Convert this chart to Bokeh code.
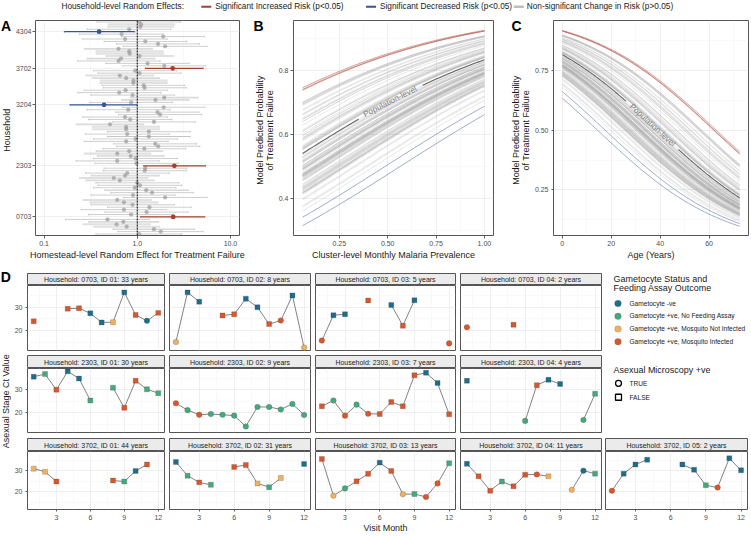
import math
import numpy as np
from bokeh.plotting import figure
from bokeh.models import (Range1d, FixedTicker, PrintfTickFormatter, Label, Span,
                          ColumnDataSource)
from bokeh.layouts import row, column
from bokeh.embed import file_html
from bokeh.resources import INLINE

# ====================== DATA ======================
# Panel A: household-level random effects (odds-ratio scale), listed bottom -> top
hh_est = [1.05, 1.79, 1.51, 0.77, 0.60, 0.71, 0.48, 2.43, 0.86, 1.26,
          0.72, 1.35, 0.89, 0.72, 0.61, 1.99, 0.90, 1.44, 1.25, 0.94,
          1.07, 1.00, 0.65, 0.56, 0.74, 0.78, 1.20, 1.22, 2.50, 0.98,
          0.61, 0.96, 0.85, 0.61, 0.82, 1.19, 1.68, 1.56, 0.76, 0.96,
          1.33, 0.78, 1.33, 0.76, 0.76, 0.51, 1.51, 0.84, 0.74, 1.76,
          1.65, 0.80, 1.92, 0.44, 0.86, 1.57, 1.95, 0.89, 0.64, 0.75,
          1.20, 1.17, 0.91, 0.91, 0.76, 0.65, 1.06, 0.95, 2.40, 1.95,
          1.29, 0.63, 0.67, 1.06, 0.83, 0.82, 0.63, 1.99, 1.67, 1.22,
          0.74, 1.90, 0.68, 0.39, 0.82, 1.08, 1.10, 1.05]
hh_lo = [0.36, 0.62, 0.55, 0.34, 0.26, 0.30, 0.17, 1.08, 0.30, 0.45,
         0.25, 0.48, 0.32, 0.31, 0.26, 0.71, 0.32, 0.52, 0.45, 0.34,
         0.38, 0.36, 0.28, 0.24, 0.32, 0.28, 0.43, 0.44, 1.17, 0.35,
         0.22, 0.34, 0.37, 0.27, 0.36, 0.43, 0.60, 0.56, 0.27, 0.34,
         0.48, 0.28, 0.48, 0.33, 0.33, 0.22, 0.54, 0.30, 0.26, 0.63,
         0.59, 0.29, 0.69, 0.19, 0.31, 0.68, 0.84, 0.32, 0.23, 0.27,
         0.43, 0.42, 0.40, 0.40, 0.33, 0.28, 0.38, 0.34, 1.22, 0.70,
         0.46, 0.23, 0.29, 0.46, 0.36, 0.36, 0.27, 0.71, 0.60, 0.44,
         0.26, 0.68, 0.24, 0.165, 0.29, 0.48, 0.49, 0.37]
hh_hi = [3.0, 5.1, 4.1, 1.75, 1.38, 1.70, 1.35, 5.3, 2.45, 3.5,
         2.05, 3.8, 2.5, 1.68, 1.42, 5.6, 2.55, 4.0, 3.5, 2.6,
         3.0, 2.8, 1.52, 1.30, 1.72, 2.2, 3.35, 3.4, 5.4, 2.75,
         1.72, 2.7, 1.95, 1.40, 1.88, 3.3, 4.7, 4.3, 2.15, 2.7,
         3.7, 2.2, 3.7, 1.75, 1.75, 1.18, 4.2, 2.35, 2.1, 4.9,
         4.6, 2.25, 5.3, 0.99, 2.4, 3.6, 4.5, 2.5, 1.8, 2.1,
         3.35, 3.25, 2.1, 2.1, 1.75, 1.50, 2.95, 2.65, 5.1, 5.4,
         3.6, 1.76, 1.55, 2.45, 1.92, 1.90, 1.46, 5.6, 4.65, 3.4,
         2.1, 5.3, 1.9, 0.94, 2.3, 2.45, 2.5, 2.9]
hh_n = [2, 2, 3, 7, 7, 6, 2, 4, 2, 2,
        2, 2, 2, 7, 7, 2, 2, 2, 3, 2,
        2, 2, 6, 7, 6, 2, 2, 2, 4, 2,
        2, 2, 7, 7, 6, 2, 2, 2, 2, 2,
        3, 2, 2, 7, 7, 6, 2, 2, 2, 2,
        2, 2, 2, 4, 2, 6, 6, 2, 2, 2,
        2, 2, 7, 7, 6, 7, 2, 2, 4, 2,
        2, 2, 6, 7, 7, 7, 6, 2, 2, 2,
        2, 2, 2, 4, 2, 7, 7, 2]
hh_tick_rows = [7, 28, 53, 68, 83]
hh_tick_labels = ["0703", "2303", "3204", "3702", "4304"]

# Panels B & C: population-level fixed effects (logit scale)
b_intercept, b_slope = 0.071, 1.543        # vs cluster-level monthly prevalence
b_prev_min, b_prev_max = 0.06, 1.00
c_intercept, c_slope = 1.49, -0.03825      # vs age in years
c_age_min, c_age_max = 0.0, 72.5

# Panel D: asexual-stage Ct value by visit month (None = no sample)
months = [1, 2, 3, 4, 5, 6, 7, 8, 9, 10, 11, 12]
d_titles = ["Household: 0703, ID 01: 33 years", "Household: 0703, ID 02: 8 years",
            "Household: 0703, ID 03: 5 years", "Household: 0703, ID 04: 2 years",
            "Household: 2303, ID 01: 30 years", "Household: 2303, ID 02: 9 years",
            "Household: 2303, ID 03: 7 years", "Household: 2303, ID 04: 4 years",
            "Household: 3702, ID 01: 44 years", "Household: 3702, ID 02: 31 years",
            "Household: 3702, ID 03: 13 years", "Household: 3702, ID 04: 11 years",
            "Household: 3702, ID 05: 2 years"]
d_ct = [
    [24.0, None, None, 29.4, 29.6, 27.4, 23.5, 23.6, 36.4, 26.7, 24.2, 27.6],
    [15.1, 36.4, 32.4, None, 26.5, 27.0, 33.7, 30.0, 22.8, 24.3, 35.1, 12.7],
    [15.7, 26.6, 27.0, None, 32.9, None, 31.0, 22.1, 33.0, None, None, 14.5],
    [21.4, None, None, None, 22.5, None, None, None, None, None, None, None],
    [35.8, 36.9, 30.1, 38.1, 35.0, 25.4, None, 31.0, 22.2, 34.0, 30.3, 28.6],
    [24.2, 21.2, 19.2, 19.5, 19.2, 18.8, 14.1, 22.6, 22.6, 21.5, 23.9, 19.1],
    [22.9, 25.4, 18.8, 23.6, 19.6, 19.5, 24.7, 22.9, 36.4, 37.5, 33.0, 19.4],
    [34.0, None, None, None, None, 16.5, 32.1, 34.4, 32.6, None, 16.9, 28.3],
    [31.1, 29.6, 24.9, None, None, None, None, 25.4, 24.9, 30.0, 33.1, None],
    [34.3, 27.7, 24.5, 23.3, None, 31.9, 32.9, 24.0, 22.2, 26.6, None, 33.3],
    [35.8, 18.1, 21.6, 25.0, 28.6, 34.0, 30.0, 18.8, 18.9, 17.5, 24.0, 33.7],
    [33.4, 27.4, 20.5, 24.9, 22.6, 28.2, 28.3, 27.4, None, 20.9, 30.1, 28.7],
    [20.5, 28.7, 33.1, 35.4, None, None, 33.1, 30.6, 23.1, 22.0, 36.1, 30.3],
]
# gametocyte status: N = -ve, F = +ve no feeding assay, U = mosquito not infected, I = mosquito infected
d_status = ["I--IINNUNINI", "UNN-IINNIINU", "INN-I-NIN--I", "I---I-------",
            "NFINNF-FIIFF", "IFIFFFFFFFFF", "IFIFIIIIINNI", "N----FINN-FF",
            "UUI----IFNI-", "NFIF-IIUFU-N", "IUFIINIUFIIF", "NIIFIIIU-UNF",
            "INNN--NNFINN"]
# asexual microscopy +ve: c = TRUE (circle), s = FALSE (square)
d_micro = ["s--ssssssscs", "css-ssssscsc", "css-s-sss--c", "c---s-------",
           "ssssss-sssss", "cccccccccccc", "sccccsssssss", "s----csss-cs",
           "sss----ssss-", "ssss-sssss-s", "sccsssscsccs", "sssssscs-ccs",
           "csss--ssscss"]

status_codes = ["N", "F", "U", "I"]
status_labels = ["Gametocyte -ve", "Gametocyte +ve, No Feeding Assay",
                 "Gametocyte +ve, Mosquito Not Infected", "Gametocyte +ve, Mosquito Infected"]
status_colors = ["#1D6E8E", "#44AA7E", "#F0B15E", "#D9572B"]
micro_labels = ["TRUE", "FALSE"]

re_labels = ["Significant Increased Risk (p<0.05)", "Significant Decreased Risk (p<0.05)",
             "Non-significant Change in Risk (p>0.05)"]
RED, BLUE, GRAY = "#A83E2C", "#355593", "#9A9A9A"

# ====================== LAYOUT HELPERS ======================
SX = 750 / 751
SY = 535 / 536
FONT = "Liberation Sans"


def px(v):
    return f"{v * SY:.2f}px"


def fig_box(x0, x1, y0, y1, fx0, fx1, fy0, fy1, **kw):
    w = round(x1 * SX) - round(x0 * SX)
    h = round(y1 * SY) - round(y0 * SY)
    p = figure(width=w, height=h,
               min_border_left=round(fx0 * SX) - round(x0 * SX),
               min_border_right=round(x1 * SX) - round(fx1 * SX),
               min_border_top=round(fy0 * SY) - round(y0 * SY),
               min_border_bottom=round(y1 * SY) - round(fy1 * SY),
               toolbar_location=None, output_backend="svg", **kw)
    p.background_fill_color = "white"
    p.border_fill_color = "white"
    return p


def blank_fig(x0, x1, y0, y1):
    p = fig_box(x0, x1, y0, y1, x0, x1, y0, y1,
                x_range=Range1d(x0, x1), y_range=Range1d(y1, y0),
                x_axis_location=None, y_axis_location=None)
    p.grid.visible = False
    p.outline_line_color = None
    return p


def add_label(p, box, x, y, text, size, color="#1A1A1A", align="left",
              baseline="middle", angle=0.0, bold=False):
    # box = (x0, x1, y0, y1) of a blank figure, text position in page coordinates
    x0, x1, y0, y1 = box
    p.add_layout(Label(x=(x - x0) * SX, y=(y1 - y) * SY, x_units="screen", y_units="screen",
                       text=text, text_font=FONT, text_font_size=px(size), text_color=color,
                       text_align=align, text_baseline=baseline, angle=angle,
                       text_font_style="bold" if bold else "normal"))


def style_theme(p, tick_size=7, tick_out=3, standoff=1):
    p.outline_line_color = "#555555"
    p.outline_line_width = 1
    for g in p.grid:
        g.grid_line_color = "#EBEBEB"
        g.grid_line_width = 0.8
        g.minor_grid_line_color = "#F3F3F3"
        g.minor_grid_line_width = 0.5
    for ax in p.axis:
        ax.axis_line_color = None
        ax.major_tick_line_color = "#333333"
        ax.major_tick_line_width = 0.8
        ax.major_tick_in = 0
        ax.major_tick_out = tick_out
        ax.minor_tick_line_color = None
        ax.major_label_text_font = FONT
        ax.major_label_text_font_size = px(tick_size)
        ax.major_label_text_color = "#4D4D4D"
        ax.major_label_standoff = standoff
        ax.axis_label_text_font = FONT
        ax.axis_label_text_font_size = px(9)
        ax.axis_label_text_font_style = "normal"
        ax.axis_label_text_color = "#1A1A1A"
        ax.axis_label_standoff = 1


def inv_logit(z):
    return 1.0 / (1.0 + np.exp(-z))


sig = ["inc" if lo > 1 else ("dec" if hi < 1 else "ns") for lo, hi in zip(hh_lo, hh_hi)]

# ====================== HEADER LEGEND ======================
hbox = (0, 751, 0, 12)
hdr = blank_fig(*hbox)
add_label(hdr, hbox, 61, 6.3, "Household-level Random Effects:", 8.3)
sw_x = [201, 366, 514]
tx_x = [215, 380, 527]
sw_col = [RED, BLUE, "#BDBDBD"]
sw_w = [2.0, 2.0, 2.6]
for i, lab in enumerate(re_labels):
    hdr.segment(x0=[sw_x[i]], y0=[6.3], x1=[sw_x[i] + 10], y1=[6.3],
                line_color=sw_col[i], line_width=sw_w[i])
    add_label(hdr, hbox, tx_x[i], 6.3, lab, 8.3)

# ====================== PANEL A ======================
TOP, BOT = 12, 262
aBox = (0, 12, TOP, BOT)
blkA = blank_fig(*aBox)
add_label(blkA, aBox, 0.5, 25.5, "A", 14, color="black", baseline="alphabetic", bold=True)
add_label(blkA, aBox, 6.3, 129.5, "Household", 9, align="center", angle=math.pi / 2)

pA = fig_box(12, 248, TOP, BOT, 32, 239, 20, 239, x_axis_type="log",
             x_range=Range1d(0.081, 12.5), y_range=Range1d(-0.6, len(hh_est) - 0.4),
             x_axis_label="Homestead-level Random Effect for Treatment Failure")
style_theme(pA)
pA.xaxis.ticker = FixedTicker(ticks=[0.1, 1, 10], minor_ticks=[0.316, 3.16])
pA.xaxis.formatter = PrintfTickFormatter(format="%.1f")
pA.yaxis.ticker = FixedTicker(ticks=hh_tick_rows, minor_ticks=[])
pA.yaxis.major_label_overrides = {r: l for r, l in zip(hh_tick_rows, hh_tick_labels)}
pA.ygrid.minor_grid_line_color = None

rows_all = list(range(len(hh_est)))


def a_source(keep):
    idx = [i for i in rows_all if keep(sig[i])]
    col = [RED if sig[i] == "inc" else BLUE if sig[i] == "dec" else GRAY for i in idx]
    lw = [1.3 if sig[i] != "ns" else 0.1 + 0.28 * hh_n[i] for i in idx]
    la = [1.0 if sig[i] != "ns" else max(0.3, 0.9 - 0.09 * hh_n[i]) for i in idx]
    return ColumnDataSource(dict(
        y=idx, e=[hh_est[i] for i in idx], lo=[hh_lo[i] for i in idx], hi=[hh_hi[i] for i in idx],
        ylo=[i - 0.38 for i in idx], yhi=[i + 0.38 for i in idx], col=col, lw=lw, la=la))


for keep, psize, palpha in [(lambda s: s == "ns", 4.2, 0.7), (lambda s: s != "ns", 4.8, 1.0)]:
    src = a_source(keep)
    pA.segment(x0="lo", y0="y", x1="hi", y1="y", line_color="col", line_width="lw",
               line_alpha="la", source=src)
    pA.segment(x0="lo", y0="ylo", x1="lo", y1="yhi", line_color="col", line_width=0.6,
               line_alpha="la", source=src)
    pA.segment(x0="hi", y0="ylo", x1="hi", y1="yhi", line_color="col", line_width=0.6,
               line_alpha="la", source=src)
    pA.scatter(x="e", y="y", size=psize, fill_color="col", line_color=None,
               fill_alpha=palpha, source=src)
pA.add_layout(Span(location=1.0, dimension="height", line_color="black",
                   line_dash="2 1", line_width=1.0))


# ====================== PANELS B & C ======================
def curve_panel(p, xgrid, b0, b1, gap):
    ns_x, ns_y, ns_w, ns_a = [], [], [], []
    for i, e in enumerate(hh_est):
        if sig[i] == "ns":
            ns_x.append(xgrid)
            ns_y.append(inv_logit(b0 + b1 * xgrid + np.log(e)))
            ns_w.append(0.55 if hh_n[i] < 5 else 2.0)
            ns_a.append(0.45 if hh_n[i] < 5 else 0.22)
    p.multi_line(xs=ns_x, ys=ns_y, line_color="#A0A0A0", line_width=ns_w, line_alpha=ns_a)
    pop = inv_logit(b0 + b1 * xgrid)
    pop = np.where((xgrid > gap[0]) & (xgrid < gap[1]), np.nan, pop)   # room for the label
    p.line(xgrid, pop, line_color="#666666", line_width=1.1)
    for i, e in enumerate(hh_est):
        if sig[i] != "ns":
            p.line(xgrid, inv_logit(b0 + b1 * xgrid + np.log(e)),
                   line_color=RED if sig[i] == "inc" else BLUE, line_width=0.9, line_alpha=0.55)


bBox = (248, 275, TOP, BOT)
blkB = blank_fig(*bBox)
add_label(blkB, bBox, 253, 25.5, "B", 14, color="black", baseline="alphabetic", bold=True)
add_label(blkB, bBox, 259.5, 129.5, "Model Predicted Probability", 9, align="center", angle=math.pi / 2)
add_label(blkB, bBox, 269.3, 129.5, "of Treatment Failure", 9, align="center", angle=math.pi / 2)

pB = fig_box(275, 505, TOP, BOT, 289, 494, 20, 239,
             x_range=Range1d(0.013, 1.047), y_range=Range1d(0.284, 0.957),
             x_axis_label="Cluster-level Monthly Malaria Prevalence")
style_theme(pB)
pB.xaxis.ticker = FixedTicker(ticks=[0.25, 0.5, 0.75, 1.0], minor_ticks=[0.125, 0.375, 0.625, 0.875])
pB.xaxis.formatter = PrintfTickFormatter(format="%.2f")
pB.yaxis.ticker = FixedTicker(ticks=[0.4, 0.6, 0.8], minor_ticks=[0.3, 0.5, 0.7, 0.9])
pB.yaxis.formatter = PrintfTickFormatter(format="%.1f")
prev_grid = np.linspace(b_prev_min, b_prev_max, 95)
curve_panel(pB, prev_grid, b_intercept, b_slope, (0.355, 0.67))
bx = 0.512
pB.text(x=[bx], y=[float(inv_logit(b_intercept + b_slope * bx))], text=["Population-level"],
        angle=0.47, text_align="center", text_baseline="middle", text_color="#808080",
        text_font={"value": FONT}, text_font_size=px(8.3))

cBox = (505, 532, TOP, BOT)
blkC = blank_fig(*cBox)
add_label(blkC, cBox, 512, 25.5, "C", 14, color="black", baseline="alphabetic", bold=True)
add_label(blkC, cBox, 516.5, 129.5, "Model Predicted Probability", 9, align="center", angle=math.pi / 2)
add_label(blkC, cBox, 526.3, 129.5, "of Treatment Failure", 9, align="center", angle=math.pi / 2)

pC = fig_box(532, 751, TOP, BOT, 547, 749, 20, 239,
             x_range=Range1d(-3.6, 76.1), y_range=Range1d(0.059, 0.959),
             x_axis_label="Age (Years)")
style_theme(pC)
pC.yaxis.major_tick_out = 2
pC.xaxis.ticker = FixedTicker(ticks=[0, 20, 40, 60], minor_ticks=[10, 30, 50, 70])
pC.yaxis.ticker = FixedTicker(ticks=[0.25, 0.5, 0.75], minor_ticks=[0.125, 0.375, 0.625, 0.875])
pC.yaxis.formatter = PrintfTickFormatter(format="%.2f")
age_grid = np.linspace(c_age_min, c_age_max, 146)
curve_panel(pC, age_grid, c_intercept, c_slope, (26.0, 47.5))
cx = 36.8
pC.text(x=[cx], y=[float(inv_logit(c_intercept + c_slope * cx))], text=["Population-level"],
        angle=-0.74, text_align="center", text_baseline="middle", text_color="#808080",
        text_font={"value": FONT}, text_font_size=px(8.3))

# ====================== PANEL D ======================
col_outer = [(11, 169), (169, 315), (315, 461), (461, 606), (606, 751)]
col_frame = [(23, 164), (169, 310), (315, 456), (461, 602), (606, 748)]
# (strip outer top, strip frame top, panel frame top, panel frame bottom, panel outer bottom)
row_geo = [(262, 274, 286, 351, 356), (356, 356, 369, 433, 439), (439, 439, 452, 516, 536)]
panel_pos = [(0, 0), (0, 1), (0, 2), (0, 3), (1, 0), (1, 1), (1, 2), (1, 3),
             (2, 0), (2, 1), (2, 2), (2, 3), (2, 4)]
color_of = dict(zip(status_codes, status_colors))


def d_cell(k):
    r, c = panel_pos[k]
    ox0, ox1 = col_outer[c]
    fx0, fx1 = col_frame[c]
    st0, sf0, pf0, pf1, pb1 = row_geo[r]
    strip = fig_box(ox0, ox1, st0, pf0, fx0, fx1, sf0, pf0,
                    x_range=Range1d(0, 1), y_range=Range1d(0, 1),
                    x_axis_location=None, y_axis_location=None)
    strip.grid.visible = False
    strip.background_fill_color = "#EBEBEB"
    strip.outline_line_color = "#555555"
    strip.outline_line_width = 1
    strip.text(x=[0.5], y=[0.5], text=[d_titles[k]], text_align="center", text_baseline="middle",
               text_color="#1A1A1A", text_font={"value": FONT}, text_font_size=px(7))

    kw = {}
    if c != 0:
        kw["y_axis_location"] = None
    if r != 2:
        kw["x_axis_location"] = None
    else:
        # same bottom extent for every panel of the last row; only the middle one shows the title
        kw["x_axis_label"] = "Visit Month" if c == 2 else " "
    p = fig_box(ox0, ox1, pf0, pb1, fx0, fx1, pf0, pf1,
                x_range=Range1d(0.45, 12.55), y_range=Range1d(11.45, 39.35), **kw)
    style_theme(p, tick_size=7, tick_out=2, standoff=1)
    for ax in p.xaxis:
        ax.axis_label_standoff = 0
    xtk = FixedTicker(ticks=[3, 6, 9, 12], minor_ticks=[1.5, 4.5, 7.5, 10.5])
    ytk = FixedTicker(ticks=[20, 30], minor_ticks=[15, 25, 35])
    p.xgrid.ticker = xtk
    p.ygrid.ticker = ytk
    for ax in p.xaxis:
        ax.ticker = xtk
    for ax in p.yaxis:
        ax.ticker = ytk

    ct = np.array([np.nan if v is None else v for v in d_ct[k]], dtype=float)
    p.line(months, ct, line_color="#4D4D4D", line_width=0.7)
    for shape, marker, size in [("c", "circle", 5.6), ("s", "square", 5.0)]:
        idx = [i for i in range(12) if d_micro[k][i] == shape and d_ct[k][i] is not None]
        src = ColumnDataSource(dict(x=[months[i] for i in idx], y=[d_ct[k][i] for i in idx],
                                    col=[color_of[d_status[k][i]] for i in idx]))
        p.scatter(x="x", y="y", marker=marker, size=size * SY, fill_color="col",
                  line_color="#3A3A3A", line_alpha=0.45, line_width=0.5, source=src)
    return column(strip, p)


cells = [d_cell(k) for k in range(len(d_titles))]

# legend for panel D
lBox = (606, 751, 262, 439)
lg = blank_fig(*lBox)
add_label(lg, lBox, 614, 279, "Gametocyte Status and", 9)
add_label(lg, lBox, 614, 288.5, "Feeding Assay Outcome", 9)
for i, (lab, colr) in enumerate(zip(status_labels, status_colors)):
    yy = 303.3 + 12.8 * i
    lg.scatter(x=[618.5], y=[yy], marker="circle", size=6.6 * SY, fill_color=colr,
               line_color="#3A3A3A", line_alpha=0.35, line_width=0.5)
    add_label(lg, lBox, 630, yy, lab, 6.6)
add_label(lg, lBox, 614, 370, "Asexual Microscopy +ve", 9)
for i, (lab, marker) in enumerate(zip(micro_labels, ["circle", "square"])):
    yy = 383.5 + 14 * i
    lg.scatter(x=[619], y=[yy], marker=marker, size=6.0 * SY, fill_color=None,
               line_color="black", line_width=1.3)
    add_label(lg, lBox, 630, yy, lab, 6.6)

# left strip with D letter and y title
ylBox = (0, 11, 262, 536)
yl = blank_fig(*ylBox)
add_label(yl, ylBox, 0.2, 277, "D", 14, color="black", baseline="alphabetic", bold=True)
add_label(yl, ylBox, 5.4, 401.5, "Asexual Stage Ct Value", 9, align="center", angle=math.pi / 2)

d_top = row(column(row(*cells[0:4]), row(*cells[4:8])), column(lg))
d_bottom = row(*cells[8:13])
d_block = row(column(yl), column(d_top, d_bottom))

# blank side figures are wrapped in their own column so that their frames are not
# aligned with the neighbouring plot frames
top_row = row(column(blkA), column(pA), column(blkB), column(pB), column(blkC), column(pC))
layout = column(hdr, top_row, d_block)

with open("out.html", "w") as f:
    f.write(file_html(layout, INLINE))
